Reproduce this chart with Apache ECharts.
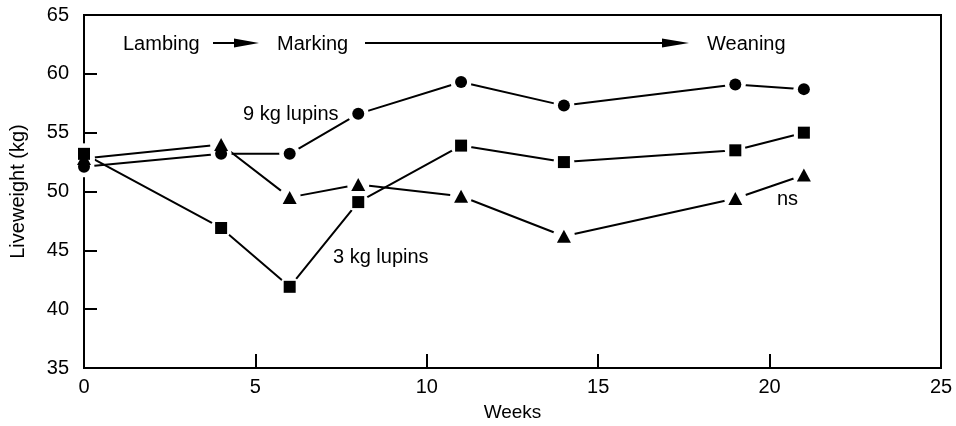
<!DOCTYPE html>
<html><head><meta charset="utf-8">
<script src="https://cdn.jsdelivr.net/npm/echarts@6/dist/echarts.min.js"></script>
<style>html,body{margin:0;padding:0;background:#fff}#c{width:956px;height:426px}</style>
</head><body><div id="c"></div>
<script>
const weeks = [0, 4, 6, 8, 11, 14, 19, 21];
const lupins9 = [52.1, 53.2, 53.2, 56.6, 59.3, 57.3, 59.1, 58.7];
const lupins3 = [53.2, 46.9, 41.9, 49.1, 53.9, 52.5, 53.5, 55.0];
const control = [52.8, 54.0, 49.5, 50.6, 49.6, 46.2, 49.4, 51.4];
const xTicks = [0, 5, 10, 15, 20, 25];
const yTicks = [35, 40, 45, 50, 55, 60, 65];

const FONT = 'Liberation Sans, Arial, Helvetica, sans-serif';
const chart = echarts.init(document.getElementById('c'), null, {renderer: 'canvas'});

const pts = vals => weeks.map((w, i) => [w, vals[i]]);
const groups = [
  {name: '9 kg lupins', vals: lupins9, symbol: 'circle', size: 12, halo: 21},
  {name: 'control', vals: control, symbol: 'triangle', size: [14, 13], halo: 22},
  {name: '3 kg lupins', vals: lupins3, symbol: 'rect', size: 12, halo: 21}
];
const series = [];
groups.forEach(g => series.push({
  name: g.name, type: 'line', data: pts(g.vals), symbol: 'none',
  lineStyle: {color: '#000', width: 2}, z: 2, silent: true, animation: false
}));
groups.forEach(g => series.push({
  name: g.name + ' gap', type: 'scatter', data: pts(g.vals), symbol: 'circle', symbolSize: g.halo,
  itemStyle: {color: '#fff', opacity: 1}, z: 3, silent: true, animation: false
}));
groups.forEach(g => series.push({
  name: g.name + ' mark', type: 'scatter', data: pts(g.vals), symbol: g.symbol, symbolSize: g.size,
  itemStyle: {color: '#000', opacity: 1}, z: 4, silent: true, animation: false
}));

const option = {
  animation: false,
  grid: {left: 84, right: 15, top: 15, bottom: 58, show: true, borderColor: '#000', borderWidth: 2,
         containLabel: false, outerBoundsMode: 'none'},
  xAxis: {
    type: 'value', min: xTicks[0], max: xTicks[xTicks.length - 1], interval: 5,
    name: 'Weeks', nameLocation: 'middle', nameGap: 35,
    nameTextStyle: {fontFamily: FONT, fontSize: 19, color: '#000'},
    axisLine: {show: true, lineStyle: {color: '#000', width: 2}},
    axisTick: {show: true, inside: true, length: 14, lineStyle: {color: '#000', width: 2}},
    axisLabel: {fontFamily: FONT, fontSize: 20, color: '#000', margin: 9},
    splitLine: {show: false}
  },
  yAxis: {
    type: 'value', min: yTicks[0], max: yTicks[yTicks.length - 1], interval: 5,
    name: 'Liveweight (kg)', nameLocation: 'middle', nameGap: 56,
    nameTextStyle: {fontFamily: FONT, fontSize: 20, color: '#000'},
    axisLine: {show: true, lineStyle: {color: '#000', width: 2}},
    axisTick: {show: true, inside: true, length: 13, lineStyle: {color: '#000', width: 2}},
    axisLabel: {fontFamily: FONT, fontSize: 20, color: '#000', margin: 15},
    splitLine: {show: false}
  },
  series,
  graphic: [
    {type: 'text', left: 123, top: 34, style: {text: 'Lambing', font: '20px ' + FONT, fill: '#000'}},
    {type: 'line', shape: {x1: 213, y1: 43, x2: 240, y2: 43}, style: {stroke: '#000', lineWidth: 2}},
    {type: 'polygon', shape: {points: [[234, 38.5], [259, 43], [234, 47.5]]}, style: {fill: '#000'}},
    {type: 'text', left: 277, top: 34, style: {text: 'Marking', font: '20px ' + FONT, fill: '#000'}},
    {type: 'line', shape: {x1: 365, y1: 43, x2: 670, y2: 43}, style: {stroke: '#000', lineWidth: 2}},
    {type: 'polygon', shape: {points: [[662, 38.5], [689, 43], [662, 47.5]]}, style: {fill: '#000'}},
    {type: 'text', left: 707, top: 34, style: {text: 'Weaning', font: '20px ' + FONT, fill: '#000'}},
    {type: 'text', left: 243, top: 104, style: {text: '9 kg lupins', font: '20px ' + FONT, fill: '#000'}},
    {type: 'text', left: 333, top: 247, style: {text: '3 kg lupins', font: '20px ' + FONT, fill: '#000'}},
    {type: 'text', left: 777, top: 189, style: {text: 'ns', font: '20px ' + FONT, fill: '#000'}}
  ]
};
chart.setOption(option);
</script>
</body></html>
